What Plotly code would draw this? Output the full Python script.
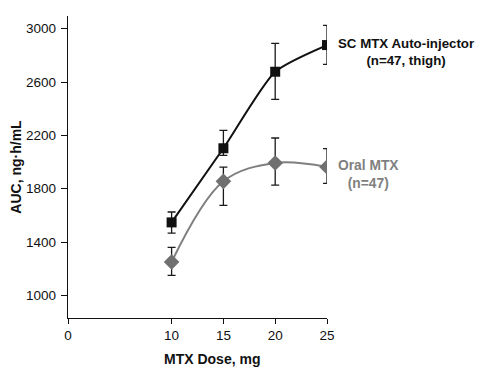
import plotly.graph_objects as go

doses = [10, 15, 20, 25]
sc_auc = [1547, 2103, 2677, 2877]
sc_err_hi = [78, 134, 212, 148]
sc_err_lo = [80, 54, 207, 145]
oral_auc = [1250, 1855, 1993, 1963]
oral_err_hi = [110, 107, 187, 137]
oral_err_lo = [100, 180, 167, 124]
x_ticks = [0, 10, 15, 20, 25]
y_ticks = [1000, 1400, 1800, 2200, 2600, 3000]

FONT = "Liberation Sans, Arial, Helvetica, sans-serif"

fig = go.Figure()
fig.add_trace(go.Scatter(
    x=doses, y=oral_auc, mode="lines+markers",
    line=dict(color="#7f7f7f", width=2, shape="spline", smoothing=1.0),
    marker=dict(symbol="diamond", size=12, color="#707070"),
    error_y=dict(type="data", symmetric=False, array=oral_err_hi, arrayminus=oral_err_lo,
                 color="#1a1a1a", thickness=1.3, width=4),
    showlegend=False,
))
fig.add_trace(go.Scatter(
    x=doses, y=sc_auc, mode="lines+markers",
    line=dict(color="#111111", width=2, shape="spline", smoothing=0.6),
    marker=dict(symbol="square", size=10, color="#111111"),
    error_y=dict(type="data", symmetric=False, array=sc_err_hi, arrayminus=sc_err_lo,
                 color="#1a1a1a", thickness=1.3, width=4),
    showlegend=False,
))

fig.add_annotation(x=25, y=2877, xref="x", yref="y", xanchor="left", yanchor="middle",
                   xshift=9, yshift=-7, showarrow=False, align="center",
                   text="<b>SC MTX Auto-injector<br>(n=47, thigh)</b>",
                   font=dict(family=FONT, size=13.3, color="#111111"))
fig.add_annotation(x=25, y=1963, xref="x", yref="y", xanchor="left", yanchor="middle",
                   xshift=9, yshift=-8, showarrow=False, align="center",
                   text="<b>Oral MTX<br>(n=47)</b>",
                   font=dict(family=FONT, size=13.8, color="#808080"))
# x-axis title (sits right of the plot centre in the reference)
fig.add_annotation(x=0.556, y=0, xref="paper", yref="paper", xanchor="center", yanchor="top",
                   yshift=-31, showarrow=False,
                   text="<b>MTX Dose, mg</b>",
                   font=dict(family=FONT, size=14, color="#111111"))

# page body has an 8px default margin: size the figure so the plot area lands where the reference has it
fig.update_layout(
    width=475, height=361,
    margin=dict(l=60, r=156, t=8, b=51, autoexpand=False),
    paper_bgcolor="white", plot_bgcolor="white",
    font=dict(family=FONT, size=13.5, color="#111111"),
)
fig.update_xaxes(
    range=[0, 25], tickvals=x_ticks, ticks="outside", ticklen=5, tickcolor="#111111",
    showline=True, linecolor="#111111", linewidth=1.3, showgrid=False, zeroline=False,
    tickfont=dict(size=13.5), automargin=False,
)
fig.update_yaxes(
    range=[830, 3095], tickvals=y_ticks, ticks="outside", ticklen=6, tickcolor="#111111",
    showline=True, linecolor="#111111", linewidth=1.3, showgrid=False, zeroline=False,
    tickfont=dict(size=13.5), ticklabelstandoff=2, automargin=False,
    title=dict(text="<b>AUC, ng·h/mL</b>", font=dict(size=14), standoff=8),
)

fig.write_html("out.html")
